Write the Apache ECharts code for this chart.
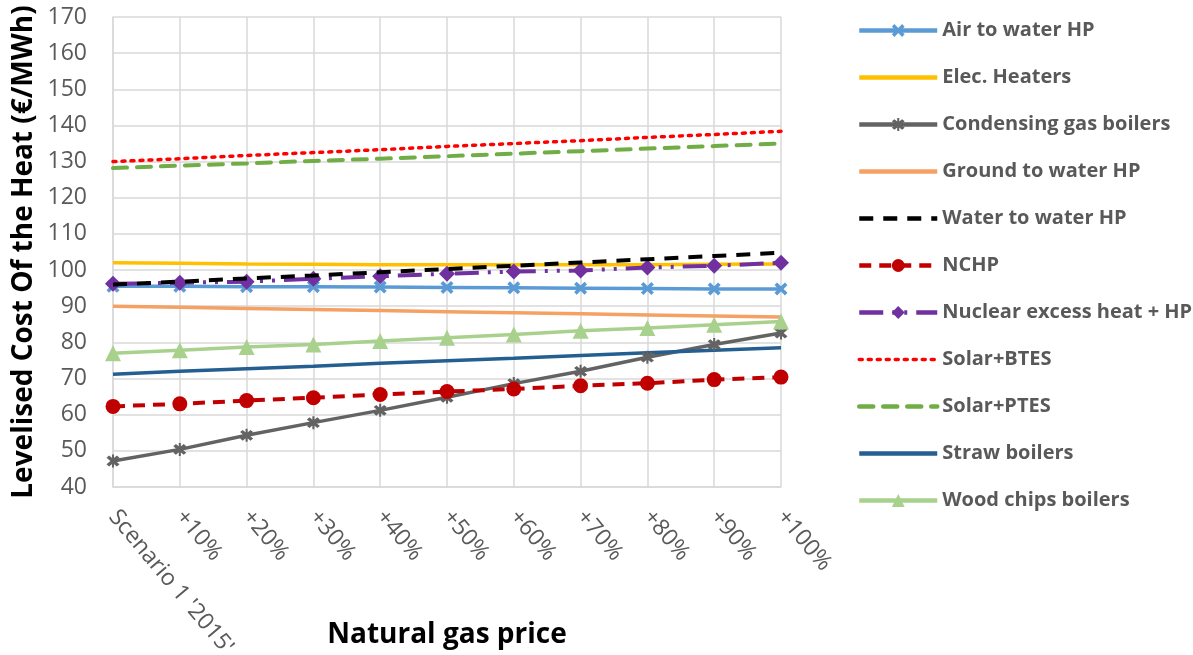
<!DOCTYPE html>
<html><head><meta charset="utf-8">
<script src="https://cdn.jsdelivr.net/npm/echarts@6/dist/echarts.min.js"></script>
<style>html,body{margin:0;padding:0;background:#fff}#c{width:1193px;height:655px}</style>
</head><body><div id="c"></div>
<script>
const categories = ["Scenario 1 '2015'", "+10%", "+20%", "+30%", "+40%", "+50%", "+60%", "+70%", "+80%", "+90%", "+100%"];
const airToWater = [95.5, 95.5, 95.4, 95.4, 95.3, 95.2, 95.1, 95.0, 94.9, 94.8, 94.8];
const elecHeaters = [102.0, 101.9, 101.7, 101.6, 101.5, 101.5, 101.5, 101.5, 101.5, 101.6, 101.7];
const condensingGas = [47.2, 50.4, 54.3, 57.8, 61.2, 64.8, 68.6, 72.0, 75.9, 79.4, 82.6];
const groundToWater = [90.0, 89.7, 89.4, 89.1, 88.8, 88.5, 88.2, 87.9, 87.6, 87.3, 87.0];
const waterToWater = [96.0, 96.8, 97.7, 98.5, 99.4, 100.3, 101.2, 102.1, 103.0, 103.9, 104.8];
const nchp = [62.3, 63.0, 63.9, 64.7, 65.6, 66.4, 67.1, 68.0, 68.7, 69.7, 70.4];
const nuclear = [96.2, 96.5, 96.8, 97.6, 98.3, 99.0, 99.6, 99.9, 100.7, 101.2, 102.0];
const solarBTES = [130.0, 130.8, 131.7, 132.5, 133.3, 134.2, 135.0, 135.8, 136.7, 137.5, 138.4];
const solarPTES = [128.2, 128.9, 129.5, 130.2, 130.8, 131.5, 132.2, 132.9, 133.6, 134.3, 135.0];
const straw = [71.2, 72.0, 72.7, 73.4, 74.2, 74.9, 75.6, 76.4, 77.1, 77.8, 78.5];
const woodChips = [77.0, 77.8, 78.7, 79.4, 80.4, 81.3, 82.2, 83.2, 84.0, 84.9, 85.8];
const yTicks = {min: 40, max: 170, interval: 10};

const FONT = '"Open Sans", "DejaVu Sans", sans-serif';
const X = 'path://M2,0 L5,3 L8,0 L10,2 L7,5 L10,8 L8,10 L5,7 L2,10 L0,8 L3,5 L0,2 Z';
const STAR = 'path://M2,0 L5,3 L8,0 L10,2 L7,5 L10,8 L8,10 L5,7 L2,10 L0,8 L3,5 L0,2 Z M4.2,-1 L5.8,-1 L5.8,11 L4.2,11 Z';

const legendItems = [];
function s(name, data, color, opts) {
  opts = opts || {};
  const item = {name: name, lineStyle: {width: opts.legendWidth || 4.5}};
  if (!opts.symbol) item.itemStyle = {opacity: 0};
  legendItems.push(item);
  return {
    name, type: 'line', data,
    symbol: opts.symbol || 'circle',
    symbolSize: opts.size || 10,
    showSymbol: !!opts.symbol,
    lineStyle: {color, width: opts.width || 3.5, type: opts.dash || 'solid', cap: opts.cap || 'butt'},
    itemStyle: {color, borderWidth: 0},
    emphasis: {disabled: true},
    z: opts.z || 2,
    animation: false
  };
}

const series = [
  s('Air to water HP', airToWater, '#5b9bd5', {symbol: X, size: 13}),
  s('Elec. Heaters', elecHeaters, '#ffc000', {}),
  s('Condensing gas boilers', condensingGas, '#636363', {symbol: STAR, size: 13}),
  s('Ground to water HP', groundToWater, '#f4a163', {}),
  s('Water to water HP', waterToWater, '#000000', {dash: [14, 10], width: 4, z: 3}),
  s('NCHP', nchp, '#c00000', {symbol: 'circle', size: 15, dash: [12, 8], width: 4}),
  s('Nuclear excess heat + HP', nuclear, '#7030a0', {symbol: 'diamond', size: 16, dash: [24, 9, 3, 9, 3, 9], width: 4}),
  s('Solar+BTES', solarBTES, '#ff0000', {dash: [3, 6], width: 3.5, cap: 'round', legendWidth: 3.5}),
  s('Solar+PTES', solarPTES, '#70ad47', {dash: [14, 10], width: 4, cap: 'round'}),
  s('Straw boilers', straw, '#255e91', {}),
  s('Wood chips boilers', woodChips, '#a9d18e', {symbol: 'triangle', size: 16})
];

const chart = echarts.init(document.getElementById('c'));
chart.setOption({
  animation: false,
  textStyle: {fontFamily: FONT},
  grid: {left: 113, right: 412, top: 17, bottom: 168, outerBoundsMode: 'none', containLabel: false},
  legend: {
    orient: 'vertical', left: 857, top: 20, padding: 0,
    itemWidth: 78, itemHeight: 16, itemGap: 26,
    lineStyle: {width: 4.5},
    textStyle: {fontSize: 20, fontWeight: 'bold', color: '#595959', lineHeight: 21, fontFamily: FONT},
    data: legendItems
  },
  xAxis: {
    type: 'category', data: categories, boundaryGap: false,
    name: 'Natural gas price', nameLocation: 'middle', nameGap: 134, nameMoveOverlap: false,
    nameTextStyle: {fontSize: 28, fontWeight: 'bold', color: '#000', fontFamily: FONT},
    axisLine: {lineStyle: {color: '#d9d9d9', width: 1.5}},
    axisTick: {show: false},
    axisLabel: {rotate: -50, fontSize: 23, color: '#595959', interval: 0, margin: 26, fontFamily: FONT},
    splitLine: {show: true, lineStyle: {color: '#d9d9d9', width: 1.5}}
  },
  yAxis: {
    type: 'value', min: yTicks.min, max: yTicks.max, interval: yTicks.interval,
    name: 'Levelised Cost Of the Heat (€/MWh)', nameLocation: 'middle', nameGap: 75, nameMoveOverlap: false,
    nameTextStyle: {fontSize: 28, fontWeight: 'bold', color: '#000', fontFamily: FONT},
    axisLine: {show: true, lineStyle: {color: '#d9d9d9', width: 1.5}},
    axisTick: {show: false},
    axisLabel: {fontSize: 23, color: '#595959', margin: 26, fontFamily: FONT},
    splitLine: {lineStyle: {color: '#d9d9d9', width: 1.5}}
  },
  series: series
});
</script></body></html>
